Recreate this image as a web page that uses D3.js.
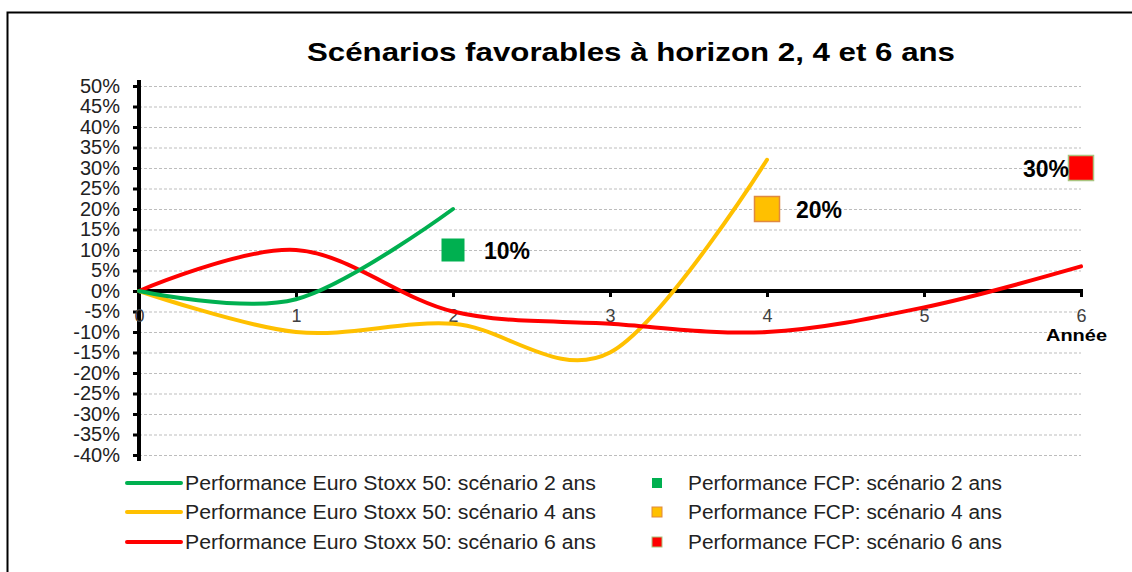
<!DOCTYPE html>
<html>
<head>
<meta charset="utf-8">
<script src="https://cdn.jsdelivr.net/npm/d3@7"></script>
<style>
body { margin: 0; background: #fff; }
svg text { font-family: "Liberation Sans", Arial, sans-serif; }
</style>
</head>
<body>
<div id="chart"></div>
<script>
// données
var years = [0, 1, 2, 3, 4, 5, 6];
var stoxx2 = [0, -2, 20];
var stoxx4 = [0, -10, -8, -15, 32];
var stoxx6 = [0, 10, -5, -8, -10, -4, 6];
var fcpYears = [2, 4, 6];
var fcpValues = [10, 20, 30];
var yTicks = [50, 45, 40, 35, 30, 25, 20, 15, 10, 5, 0, -5, -10, -15, -20, -25, -30, -35, -40];
var colors = ["#00B050", "#FFC000", "#FF0000"];
var fcpBorders = ["#00B050", "#E0893F", "#A9C47F"];
var lineLabels = ["Performance Euro Stoxx 50: scénario 2 ans", "Performance Euro Stoxx 50: scénario 4 ans", "Performance Euro Stoxx 50: scénario 6 ans"];
var fcpLabels = ["Performance FCP: scénario 2 ans", "Performance FCP: scénario 4 ans", "Performance FCP: scénario 6 ans"];

var svg = d3.select("#chart")
	.append("svg")
	.attr("width", 1132)
	.attr("height", 572);

svg.append("rect")
	.attr("x", 7.5).attr("y", 12.5)
	.attr("width", 1140).attr("height", 580)
	.attr("fill", "none")
	.attr("stroke", "#000")
	.attr("stroke-width", 2);

svg.append("text")
	.attr("x", 307).attr("y", 61)
	.attr("textLength", 648)
	.attr("lengthAdjust", "spacingAndGlyphs")
	.style("font-size", "25px")
	.style("font-weight", "bold")
	.text("Scénarios favorables à horizon 2, 4 et 6 ans");

var x = d3.scaleLinear().domain([0, 6]).range([139, 1081]);
var y = d3.scaleLinear().domain([-40, 50]).range([455, 86]);

// grille
svg.append("g")
	.selectAll("line")
	.data(yTicks)
	.join("line")
	.attr("x1", x(0)).attr("x2", x(6))
	.attr("y1", d => y(d) + 0.5).attr("y2", d => y(d) + 0.5)
	.attr("stroke", "#bdbdbd")
	.attr("stroke-width", 1)
	.attr("stroke-dasharray", "3,2");

// axe Y
var yAxis = svg.append("g")
	.attr("transform", "translate(" + x(0) + ",0)")
	.call(d3.axisLeft(y).tickValues(yTicks).tickSize(6).tickFormat(d => d + "%"));
yAxis.select(".domain").remove();
yAxis.selectAll(".tick line").attr("stroke", "#000").attr("stroke-width", 3);
yAxis.selectAll(".tick text")
	.attr("x", -19)
	.style("font-size", "20px")
	.attr("fill", "#222");
svg.append("line")
	.attr("x1", x(0)).attr("x2", x(0))
	.attr("y1", 80).attr("y2", 461)
	.attr("stroke", "#000").attr("stroke-width", 4);

// axe X
var xAxis = svg.append("g")
	.attr("transform", "translate(0," + y(0) + ")")
	.call(d3.axisBottom(x).tickValues(years).tickSize(6).tickFormat(d3.format("d")));
xAxis.select(".domain").remove();
xAxis.selectAll(".tick line").attr("stroke", "#000").attr("stroke-width", 3);
xAxis.selectAll(".tick text")
	.attr("y", 18)
	.style("font-size", "18px")
	.attr("fill", "#404040");
svg.append("line")
	.attr("x1", x(0)).attr("x2", x(6) + 2)
	.attr("y1", y(0)).attr("y2", y(0))
	.attr("stroke", "#000").attr("stroke-width", 4);

svg.append("text")
	.attr("x", 1046).attr("y", 341)
	.attr("textLength", 61)
	.attr("lengthAdjust", "spacingAndGlyphs")
	.style("font-size", "17px")
	.style("font-weight", "bold")
	.text("Année");

// courbes
var line = d3.line()
	.x((d, i) => x(years[i]))
	.y(d => y(d))
	.curve(d3.curveCardinal.tension(0));

[stoxx4, stoxx6, stoxx2].forEach(function (s) {
	var c = s === stoxx2 ? colors[0] : (s === stoxx4 ? colors[1] : colors[2]);
	svg.append("path")
		.attr("d", line(s))
		.attr("fill", "none")
		.attr("stroke", c)
		.attr("stroke-width", 4)
		.attr("stroke-linecap", "round");
});

// points FCP
var sizes = [23, 25, 25];
fcpYears.forEach(function (yr, i) {
	var s = sizes[i];
	svg.append("rect")
		.attr("x", x(yr) - s / 2).attr("y", y(fcpValues[i]) - s / 2)
		.attr("width", s).attr("height", s)
		.attr("fill", colors[i])
		.attr("stroke", fcpBorders[i])
		.attr("stroke-width", i === 0 ? 0 : 1.5);
});
svg.append("text").attr("x", x(2) + 31).attr("y", y(10) + 9)
	.style("font-size", "23px").style("font-weight", "bold").text(fcpValues[0] + "%");
svg.append("text").attr("x", x(4) + 29).attr("y", y(20) + 9)
	.style("font-size", "23px").style("font-weight", "bold").text(fcpValues[1] + "%");
svg.append("text").attr("x", x(6) - 12).attr("y", y(30) + 9)
	.attr("text-anchor", "end")
	.style("font-size", "23px").style("font-weight", "bold").text(fcpValues[2] + "%");

// légende
var rowY = [483, 512, 542];
lineLabels.forEach(function (l, i) {
	svg.append("line")
		.attr("x1", 127).attr("x2", 181)
		.attr("y1", rowY[i]).attr("y2", rowY[i])
		.attr("stroke", colors[i]).attr("stroke-width", 4)
		.attr("stroke-linecap", "round");
	svg.append("text")
		.attr("x", 185).attr("y", rowY[i] + 7)
		.attr("textLength", 411)
		.attr("lengthAdjust", "spacingAndGlyphs")
		.style("font-size", "20px")
		.attr("fill", "#222")
		.text(l);
});
fcpLabels.forEach(function (l, i) {
	svg.append("rect")
		.attr("x", 652).attr("y", rowY[i] - 5)
		.attr("width", 10).attr("height", 10)
		.attr("fill", colors[i])
		.attr("stroke", fcpBorders[i])
		.attr("stroke-width", i === 0 ? 0 : 1);
	svg.append("text")
		.attr("x", 688).attr("y", rowY[i] + 7)
		.attr("textLength", 314)
		.attr("lengthAdjust", "spacingAndGlyphs")
		.style("font-size", "20px")
		.attr("fill", "#222")
		.text(l);
});
</script>
</body>
</html>
